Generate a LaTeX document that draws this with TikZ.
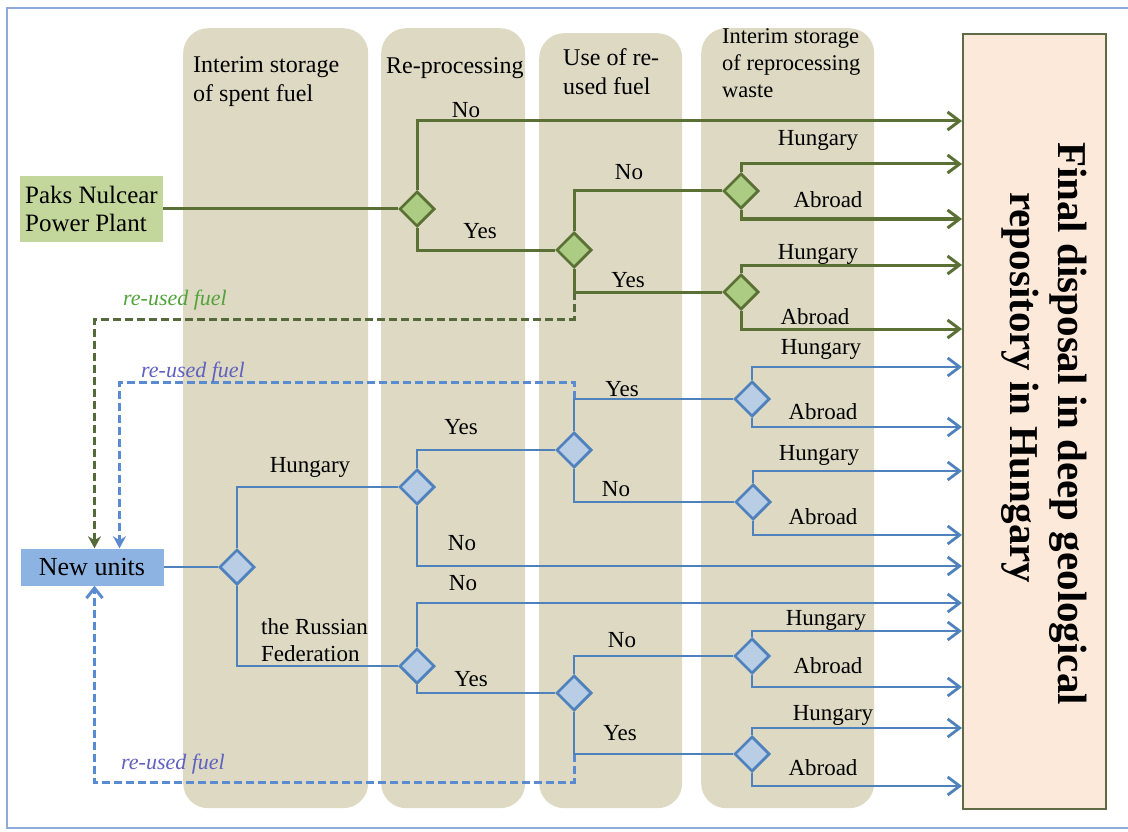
\documentclass[tikz,border=0pt]{standalone}
\usepackage{fontspec}
\setmainfont{Liberation Serif}
\usetikzlibrary{arrows.meta,shapes.geometric}
\definecolor{gcol}{HTML}{5A7035}
\definecolor{gfill}{HTML}{ABCC82}
\definecolor{paksfill}{HTML}{C3D69B}
\definecolor{bcol}{HTML}{4F81BD}
\definecolor{bfill}{HTML}{B9CDE5}
\definecolor{nufill}{HTML}{8DB3E2}
\definecolor{colfill}{HTML}{DDD9C3}
\definecolor{finfill}{HTML}{FDE9D9}
\definecolor{findraw}{HTML}{5F6B45}
\definecolor{framecol}{HTML}{8EAADB}
\definecolor{glabel}{HTML}{52A33A}
\definecolor{blabel}{HTML}{6060C0}
\definecolor{bdash}{HTML}{5A8AD0}
\definecolor{gdashc}{HTML}{56693A}
\tikzset{
  colbox/.style={rectangle, fill=colfill, draw=none, rounded corners=25pt, anchor=north west, inner sep=0pt},
  gline/.style={draw=gcol, line width=3pt},
  bline/.style={draw=bcol, line width=2.8pt},
  garr/.style={gline, -{Straight Barb[length=12pt,width=18pt]}},
  barr/.style={bline, -{Straight Barb[length=12pt,width=18pt]}},
  gdia/.style={diamond, draw=gcol, fill=gfill, line width=2.5pt, minimum width=35pt, minimum height=35pt, inner sep=0pt},
  bdia/.style={diamond, draw=bcol, fill=bfill, line width=2.5pt, minimum width=35pt, minimum height=35pt, inner sep=0pt},
  lbl/.style={font=\fontsize{23}{27}\selectfont, inner sep=0pt},
  title/.style={font=\fontsize{24}{29}\selectfont, inner sep=0pt, align=left, anchor=base west},
  gdash/.style={draw=gdashc, line width=3pt, dash pattern=on 8pt off 4pt},
  bdashs/.style={draw=bdash, line width=3pt, dash pattern=on 8pt off 4pt},
  reuse/.style={font=\fontsize{22}{26}\selectfont\itshape, inner sep=0pt},
  fintext/.style={font=\fontsize{41}{49}\selectfont\bfseries, rotate=-90, anchor=base west, inner sep=0pt},
}
\begin{document}
\begin{tikzpicture}[x=1pt,y=-1pt]
\useasboundingbox (0,0) rectangle (1128,832);
% frame
\draw[framecol, line width=2.5pt] (1130,8) -- (7,8) -- (7,828) -- (1130,828);
% columns
\node[colbox, minimum width=185pt, minimum height=780pt] (c1) at (183,28) {};
\node[colbox, minimum width=144pt, minimum height=780pt] (c2) at (381,28) {};
\node[colbox, minimum width=143pt, minimum height=775pt] (c3) at (539,33) {};
\node[colbox, minimum width=173pt, minimum height=780pt] (c4) at (701,28) {};
% final box
\node[rectangle, draw=findraw, fill=finfill, line width=2pt, anchor=north west, minimum width=143pt, minimum height=775pt, inner sep=0pt] (final) at (962,33) {};
\node[fintext] (fin1) at (1058,142) {Final disposal in deep geological};
\node[fintext] (fin2) at (1010,192) {repository in Hungary};
% column titles (anchored at the baseline of the last line)
\node[title] (t1) at (193,102) {Interim storage\\of spent fuel};
\node[title] (t2) at (386,74) {Re-processing};
\node[title] (t3) at (563,95) {Use of re-\\used fuel};
\node[title, font=\fontsize{22.5}{27}\selectfont] (t4) at (722,98) {Interim storage\\of reprocessing\\waste};
% start boxes
\node[rectangle, fill=paksfill, minimum width=143pt, minimum height=65pt, inner sep=0pt, align=left, font=\fontsize{25}{28}\selectfont] (paks) at (91.5,209) {Paks Nulcear\\Power Plant};
\node[rectangle, fill=nufill, minimum width=143pt, minimum height=37pt, inner sep=0pt, font=\fontsize{26}{30}\selectfont] (nu) at (92,567) {New units};
% target coordinates on the final box
\coordinate (g1) at (962,121);
\coordinate (g2) at (962,164);
\coordinate (g3) at (962,219);
\coordinate (g4) at (962,265);
\coordinate (g5) at (962,329);
\coordinate (b1) at (962,367);
\coordinate (b2) at (962,427);
\coordinate (b3) at (962,471);
\coordinate (b4) at (962,535);
\coordinate (b5) at (962,566);
\coordinate (b6) at (962,603);
\coordinate (b7) at (962,631);
\coordinate (b8) at (962,687);
\coordinate (b9) at (962,728);
\coordinate (b10) at (962,786);
\coordinate (gturn) at (574,319);
\coordinate (bturn1) at (574,382);
\coordinate (bturn2) at (574,782);
% diamonds
\node[gdia] (D1) at (417,209) {};
\node[gdia] (D2) at (574,250) {};
\node[gdia] (D3) at (741,191) {};
\node[gdia] (D4) at (741,292) {};
\node[bdia] (B1) at (237,567) {};
\node[bdia] (B2) at (417,487) {};
\node[bdia] (B3) at (574,450) {};
\node[bdia] (B4) at (752,399) {};
\node[bdia] (B7) at (753,502) {};
\node[bdia] (B5) at (417,666) {};
\node[bdia] (B6) at (574,693) {};
\node[bdia] (B8) at (752,656) {};
\node[bdia] (B9) at (752,754) {};
% dashed return lines
\draw[gdash, -{Stealth[length=12pt,width=13pt]}] (D2.south |- D4.west) -- (gturn) -| ([xshift=2.5pt]nu.north);
\draw[bdashs, -{Stealth[length=12pt,width=13pt]}] (B3.north |- B4.west) -- (bturn1) -| ([xshift=27.5pt]nu.north);
\draw[bdashs, -{Straight Barb[length=10pt,width=16pt]}] (B6.south |- B9.west) -- (bturn2) -| ([xshift=2.5pt]nu.south);
% green connectors
\draw[gline] (paks.east) -- (D1.west);
\draw[garr] (D1.north) |- (g1);
\draw[gline] (D1.south) |- (D2.west);
\draw[gline] (D2.north) |- (D3.west);
\draw[garr] (D3.north) |- (g2);
\draw[garr] (D3.south) |- (g3);
\draw[gline] (D2.south) |- (D4.west);
\draw[garr] (D4.north) |- (g4);
\draw[garr] (D4.south) |- (g5);
% blue connectors
\draw[bline] (nu.east) -- (B1.west);
\draw[bline] (B1.north) |- (B2.west);
\draw[bline] (B1.south) |- (B5.west);
\draw[bline] (B2.north) |- (B3.west);
\draw[barr] (B2.south) |- (b5);
\draw[barr] (B5.north) |- (b6);
\draw[bline] (B5.south) |- (B6.west);
\draw[bline] (B3.north) |- (B4.west);
\draw[bline] (B3.south) |- (B7.west);
\draw[barr] (B4.north) |- (b1);
\draw[barr] (B4.south) |- (b2);
\draw[barr] (B7.north) |- (b3);
\draw[barr] (B7.south) |- (b4);
\draw[bline] (B6.north) |- (B8.west);
\draw[bline] (B6.south) |- (B9.west);
\draw[barr] (B8.north) |- (b7);
\draw[barr] (B8.south) |- (b8);
\draw[barr] (B9.north) |- (b9);
\draw[barr] (B9.south) |- (b10);
% redraw diamonds on top
\node[gdia] at (D1) {};
\node[gdia] at (D2) {};
\node[gdia] at (D3) {};
\node[gdia] at (D4) {};
\node[bdia] at (B1) {};
\node[bdia] at (B2) {};
\node[bdia] at (B3) {};
\node[bdia] at (B4) {};
\node[bdia] at (B7) {};
\node[bdia] at (B5) {};
\node[bdia] at (B6) {};
\node[bdia] at (B8) {};
\node[bdia] at (B9) {};
% green labels
\node[lbl] (l1) at (466,110) {No};
\node[lbl] (l2) at (480,231) {Yes};
\node[lbl] (l3) at (629,172) {No};
\node[lbl] (l4) at (818,140) {Hungary};
\node[lbl] (l5) at (828,200) {Abroad};
\node[lbl] (l6) at (628,280) {Yes};
\node[lbl] (l7) at (818,254) {Hungary};
\node[lbl] (l8) at (815,317) {Abroad};
% blue labels
\node[lbl] (m1) at (310,467) {Hungary};
\node[lbl, align=left, anchor=west] (m2) at (261,640) {the Russian\\Federation};
\node[lbl] (m3) at (461,427) {Yes};
\node[lbl] (m4) at (462,543) {No};
\node[lbl] (m5) at (463,583) {No};
\node[lbl] (m6) at (471,679) {Yes};
\node[lbl] (m7) at (622,389) {Yes};
\node[lbl] (m8) at (616,489) {No};
\node[lbl] (m9) at (821,349) {Hungary};
\node[lbl] (m10) at (823,412) {Abroad};
\node[lbl] (m11) at (819,455) {Hungary};
\node[lbl] (m12) at (823,517) {Abroad};
\node[lbl] (m13) at (622,640) {No};
\node[lbl] (m14) at (620,733) {Yes};
\node[lbl] (m15) at (826,620) {Hungary};
\node[lbl] (m16) at (828,666) {Abroad};
\node[lbl] (m17) at (833,715) {Hungary};
\node[lbl] (m18) at (823,768) {Abroad};
% re-used fuel labels
\node[reuse, text=glabel] (r1) at (175,300) {re-used fuel};
\node[reuse, text=blabel] (r2) at (193,372) {re-used fuel};
\node[reuse, text=blabel] (r3) at (173,764) {re-used fuel};
\end{tikzpicture}
\end{document}
